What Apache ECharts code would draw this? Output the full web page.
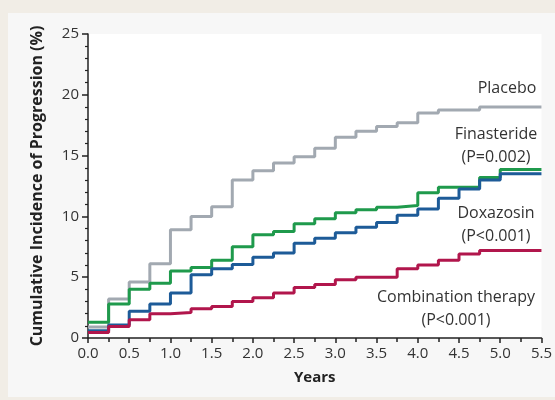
<!DOCTYPE html>
<html>
<head>
<meta charset="utf-8">
<script src="https://cdn.jsdelivr.net/npm/echarts@6/dist/echarts.min.js"></script>
<style>
html,body{margin:0;padding:0;background:#f1ede6;}
#c{width:555px;height:400px;}
</style>
</head>
<body>
<div id="c"></div>
<script>
const years = [0,0.25,0.5,0.75,1.0,1.25,1.5,1.75,2.0,2.25,2.5,2.75,3.0,3.25,3.5,3.75,4.0,4.25,4.5,4.75,5.0,5.5];
const placebo = [0.9,3.2,4.6,6.1,8.9,10.0,10.8,13.0,13.75,14.4,14.9,15.6,16.5,17.0,17.4,17.7,18.5,18.75,18.75,19.0,19.0,19.0];
const finasteride = [1.3,2.8,4.0,4.5,5.5,5.8,6.4,7.5,8.5,8.75,9.4,9.8,10.3,10.55,10.75,10.9,11.95,12.4,12.4,13.2,13.85,13.85];
const doxazosin = [0.6,1.07,2.2,2.8,3.7,5.2,5.7,6.05,6.65,7.0,7.8,8.2,8.65,9.1,9.5,10.1,10.6,11.5,12.25,13.0,13.5,13.5];
const combination = [0.45,0.95,1.5,2.0,2.1,2.4,2.6,3.0,3.3,3.7,4.15,4.4,4.8,5.0,5.0,5.7,6.0,6.4,6.9,7.2,7.2,7.2];
const xTicks = {min:0, max:5.5, interval:0.5};
const yTicks = {min:0, max:25, interval:5};
const labels = [
  {lines:['Placebo'], x:507, y:88},
  {lines:['Finasteride','(P=0.002)'], x:496, y:134},
  {lines:['Doxazosin','(P<0.001)'], x:496, y:213},
  {lines:['Combination therapy','(P<0.001)'], x:456, y:297}
];
const FONT = "'Open Sans', sans-serif";
const chart = echarts.init(document.getElementById('c'), null, {renderer:'canvas'});
function pairs(vals){ return years.map((t,i)=>[t, vals[i]]); }
function ser(name, vals, color){
  return {name, type:'line', step:'end', data:pairs(vals), showSymbol:false, symbol:'none',
    lineStyle:{color, width:3}, itemStyle:{color}, animation:false, z:3};
}
const graphics = [
  {type:'rect', left:8, top:13, shape:{width:547, height:384}, style:{fill:'#f7f7f7'}, z:-10, silent:true}
];
labels.forEach(l=>{
  l.lines.forEach((s,i)=>{
    graphics.push({type:'text', x:l.x, y:l.y + i*23, z:10,
      style:{text:s, fill:'#333', font:"16px 'Open Sans', sans-serif", textAlign:'center', textVerticalAlign:'middle'}});
  });
});
chart.setOption({
  backgroundColor:'transparent',
  animation:false,
  graphic: graphics,
  grid:{left:88, top:34, width:457, height:304, show:true, backgroundColor:'#ffffff', borderWidth:0},
  xAxis:{type:'value', min:xTicks.min, max:xTicks.max, interval:xTicks.interval,
    name:'Years', nameLocation:'middle', nameGap:32,
    nameTextStyle:{fontFamily:FONT, fontSize:15, fontWeight:'bold', color:'#222'},
    axisLine:{show:true, onZero:false, lineStyle:{color:'#222', width:1.5}},
    axisTick:{show:true, inside:false, length:5, lineStyle:{color:'#222', width:1.5}},
    minorTick:{show:true, splitNumber:2, length:4, lineStyle:{color:'#222', width:1.5}},
    splitLine:{show:false},
    axisLabel:{fontFamily:FONT, fontSize:15, color:'#333', margin:8, formatter:v=>v.toFixed(1)}},
  yAxis:{type:'value', min:yTicks.min, max:yTicks.max, interval:yTicks.interval,
    name:'Cumulative Incidence of Progression (%)', nameLocation:'middle', nameGap:43, nameRotate:90,
    nameTextStyle:{fontFamily:FONT, fontSize:16, fontWeight:'bold', color:'#222'},
    axisLine:{show:true, lineStyle:{color:'#222', width:1.5}},
    axisTick:{show:true, inside:false, length:6, lineStyle:{color:'#222', width:1.5}},
    minorTick:{show:true, splitNumber:5, length:3, lineStyle:{color:'#222', width:1.2}},
    splitLine:{show:false},
    axisLabel:{fontFamily:FONT, fontSize:15, color:'#333', margin:9}},
  series:[
    ser('Placebo', placebo, '#a2a9b1'),
    ser('Finasteride', finasteride, '#1f9a4c'),
    ser('Doxazosin', doxazosin, '#1d5b98'),
    ser('Combination therapy', combination, '#b1164c')
  ]
});
</script>
</body>
</html>
